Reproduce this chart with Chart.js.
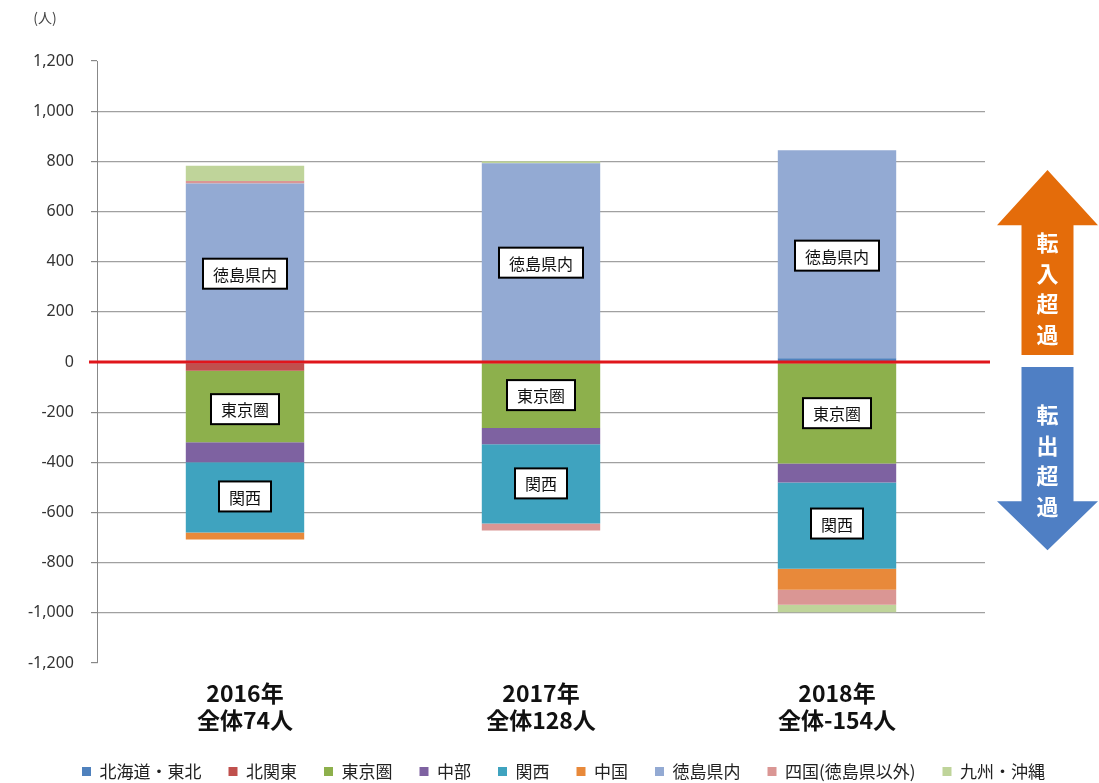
<!DOCTYPE html>
<html>
<head>
<meta charset="utf-8">
<script src="https://cdn.jsdelivr.net/npm/chart.js@4"></script>
<style>
  body { margin: 0; background: #fff; }
  #wrap { width: 1099px; height: 783px; }
</style>
</head>
<body>
<div id="wrap"><canvas id="migChart"></canvas></div>
<script>
const years = [['2016年', '全体74人'], ['2017年', '全体128人'], ['2018年', '全体-154人']];
const regions = ['北海道・東北', '北関東', '東京圏', '中部', '関西', '中国', '徳島県内', '四国(徳島県以外)', '九州・沖縄'];
const colors = ['#4F81BD', '#C0504D', '#8DB04C', '#7E62A1', '#3FA3BF', '#E8893A', '#93AAD3', '#DA9694', '#BFD49A'];

const hokkaidoTohoku = [-5, 0, 15];
const kitaKanto = [-30, -5, -5];
const tokyoArea = [-285, -258, -400];
const chubu = [-80, -65, -75];
const kansai = [-280, -316, -344];
const chugoku = [-28, 0, -84];
const tokushimaIn = [712, 792, 829];
const shikoku = [10, -28, -60];
const kyushu = [60, 8, -30];

const yTicks = [-1200, -1000, -800, -600, -400, -200, 0, 200, 400, 600, 800, 1000, 1200];

// label boxes: vertical anchor (in data units) per year
const boxTokushima = [352, 396, 424];
const boxTokyo = [-188, -132, -204];
const boxKansai = [-536, -484, -644];

const series = [hokkaidoTohoku, kitaKanto, tokyoArea, chubu, kansai, chugoku, tokushimaIn, shikoku, kyushu];
const JP = '"Noto Sans CJK JP", "Noto Sans", sans-serif';

const overlay = {
  id: 'overlay',
  afterDatasetsDraw(chart) {
    const { ctx, chartArea, scales: { x, y } } = chart;
    ctx.save();
    // zero line
    ctx.strokeStyle = '#E0161B';
    ctx.lineWidth = 3;
    ctx.beginPath();
    ctx.moveTo(chartArea.left - 8, y.getPixelForValue(0));
    ctx.lineTo(chartArea.right + 5, y.getPixelForValue(0));
    ctx.stroke();

    // label boxes
    const drawBox = (text, cx, cy) => {
      ctx.font = '16px ' + JP;
      const w = ctx.measureText(text).width + 20;
      const h = 30;
      ctx.fillStyle = '#fff';
      ctx.fillRect(cx - w / 2, cy - h / 2, w, h);
      ctx.strokeStyle = '#000';
      ctx.lineWidth = 2;
      ctx.strokeRect(cx - w / 2, cy - h / 2, w, h);
      ctx.fillStyle = '#111';
      ctx.textAlign = 'center';
      ctx.textBaseline = 'middle';
      ctx.fillText(text, cx, cy + 1);
    };
    years.forEach((_, i) => {
      const cx = x.getPixelForValue(i);
      drawBox('徳島県内', cx, y.getPixelForValue(boxTokushima[i]));
      drawBox('東京圏', cx, y.getPixelForValue(boxTokyo[i]));
      drawBox('関西', cx, y.getPixelForValue(boxKansai[i]));
    });

    // arrows
    const ax = chartArea.right + 12;
    const aw = 101, sw = 52;
    const mid = ax + aw / 2;
    const arrow = (color, base, headBase, tip, chars, firstY) => {
      ctx.fillStyle = color;
      ctx.beginPath();
      ctx.moveTo(mid - sw / 2, base);
      ctx.lineTo(mid - sw / 2, headBase);
      ctx.lineTo(ax, headBase);
      ctx.lineTo(mid, tip);
      ctx.lineTo(ax + aw, headBase);
      ctx.lineTo(mid + sw / 2, headBase);
      ctx.lineTo(mid + sw / 2, base);
      ctx.closePath();
      ctx.fill();
      ctx.fillStyle = '#fff';
      ctx.font = 'bold 22px ' + JP;
      ctx.textAlign = 'center';
      ctx.textBaseline = 'middle';
      chars.split('').forEach((c, k) => ctx.fillText(c, mid, firstY + k * 30.5));
    };
    arrow('#E46C0A', y.getPixelForValue(28), y.getPixelForValue(545), y.getPixelForValue(765), '転入超過', y.getPixelForValue(475));
    arrow('#4F7FC4', y.getPixelForValue(-20), y.getPixelForValue(-555), y.getPixelForValue(-750), '転出超過', y.getPixelForValue(-210));

    // unit label
    ctx.fillStyle = '#444';
    ctx.font = '14px ' + JP;
    ctx.textAlign = 'center';
    ctx.textBaseline = 'middle';
    ctx.fillText('(人)', chartArea.left - 52, chartArea.top - 43);
    ctx.restore();
  }
};

new Chart(document.getElementById('migChart'), {
  type: 'bar',
  data: {
    labels: years,
    datasets: regions.map((r, i) => ({
      label: r,
      data: series[i],
      backgroundColor: colors[i],
      borderWidth: 0,
      categoryPercentage: 1,
      barPercentage: 0.4
    }))
  },
  options: {
    responsive: true,
    maintainAspectRatio: false,
    animation: false,
    layout: { padding: { top: 61, right: 0, left: 28, bottom: -7 } },
    plugins: {
      tooltip: { enabled: false },
      legend: {
        position: 'bottom',
        labels: {
          boxWidth: 9, boxHeight: 9, padding: 27,
          color: '#222',
          font: { size: 17, family: JP }
        }
      }
    },
    scales: {
      x: {
        stacked: true,
        grid: { display: false, drawTicks: false },
        border: { display: false },
        ticks: {
          color: '#111', padding: 17,
          font: { size: 23, weight: 'bold', family: JP, lineHeight: 1.17 }
        },
        afterFit(s) { s.height = 73; }
      },
      y: {
        stacked: true,
        min: -1200, max: 1200,
        afterBuildTicks(s) { s.ticks = yTicks.map(v => ({ value: v })); },
        afterFit(s) { s.width = 69; },
        border: { display: true, color: '#888', width: 1 },
        grid: {
          color: c => (Math.abs(c.tick.value) === 1200 ? 'rgba(0,0,0,0)' : '#A0A0A0'),
          tickColor: '#888',
          tickLength: 6,
          lineWidth: 1.2
        },
        ticks: {
          color: '#333', padding: 17,
          font: { size: 16, family: '"Noto Sans", sans-serif' },
          callback: v => v.toLocaleString('en-US')
        }
      },
      arrowSpace: {
        position: 'right',
        grid: { display: false },
        border: { display: false },
        ticks: { display: false },
        afterFit(s) { s.width = 114; }
      }
    }
  },
  plugins: [overlay]
});
</script>
</body>
</html>
